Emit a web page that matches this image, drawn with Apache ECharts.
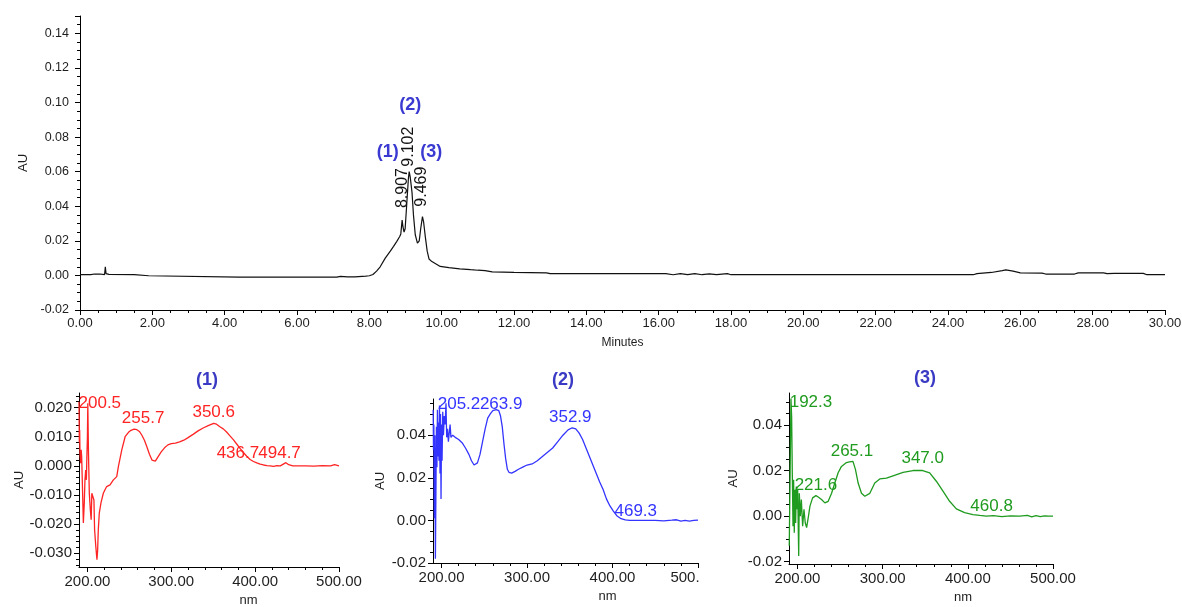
<!DOCTYPE html>
<html><head><meta charset="utf-8">
<script src="https://cdn.jsdelivr.net/npm/echarts@6/dist/echarts.min.js"></script>
<style>html,body{margin:0;padding:0;background:#fff}#c{width:1182px;height:607px}</style>
</head><body><div id="c"></div>
<script>
// ---------- chromatogram (top) ----------
const chromTime = [0.00,0.30,0.40,0.45,0.55,0.60,0.68,0.70,0.72,0.80,1.50,1.55,1.90,1.95,4.40,4.45,4.50,7.10,7.20,7.40,7.60,7.90,8.00,8.10,8.20,8.30,8.44,8.58,8.67,8.76,8.84,8.87,8.907,8.93,8.96,8.99,9.04,9.08,9.102,9.13,9.18,9.22,9.27,9.33,9.38,9.42,9.469,9.50,9.55,9.60,9.65,9.73,9.96,10.20,10.50,10.80,11.00,11.20,11.40,12.00,12.90,13.00,16.20,16.40,16.60,16.80,17.00,17.20,17.40,17.60,17.90,18.00,24.70,24.80,25.20,25.50,25.60,25.80,26.00,26.60,26.70,27.50,27.60,28.30,28.40,28.60,29.40,29.50,30.00];
const chromAU = [0.0004,0.0005,0.0008,0.0004,0.0008,0.0003,0.0005,0.0050,0.0010,0.0006,0.0004,0.0000,-0.0002,-0.0010,-0.0010,-0.0005,-0.0010,-0.0010,-0.0006,-0.0009,-0.0008,-0.0004,-0.0002,0.0005,0.0025,0.0050,0.0100,0.0140,0.0168,0.0197,0.0225,0.0240,0.0320,0.0280,0.0250,0.0270,0.0430,0.0560,0.0600,0.0570,0.0480,0.0350,0.0235,0.0187,0.0200,0.0270,0.0340,0.0310,0.0220,0.0140,0.0095,0.0080,0.0052,0.0045,0.0038,0.0033,0.0030,0.0028,0.0020,0.0017,0.0015,0.0010,0.0010,0.0004,0.0010,0.0005,0.0010,0.0004,0.0009,0.0005,0.0010,0.0004,0.0004,0.0010,0.0017,0.0028,0.0032,0.0025,0.0015,0.0013,0.0008,0.0008,0.0015,0.0015,0.0010,0.0012,0.0012,0.0004,0.0004];
const chromPeakTimes = [8.907, 9.102, 9.469];
const chromPeakNames = ['(1)', '(2)', '(3)'];

// ---------- UV spectra (bottom) ----------
const spec1NM = [190.0,190.4,190.8,191.2,192.0,192.6,193.2,194.0,195.2,196.3,197.1,198.0,198.8,199.4,200.0,200.5,201.3,202.3,203.5,204.5,205.3,206.5,207.8,208.6,210.0,211.4,212.2,213.0,214.2,216.2,219,221,223,227,231,235,237,241,245,249,252,255.7,259,262,265,268,271,274,277,279,281,284,288,292,296,300,305,310,315,320,326,332,338,344,350.6,354,358,362,366,370,374,378,382,386,390,394,398,402,406,410,414,418,422,426,430,436.7,440,445,450,460,470,480,490,494.7,500];
const spec1AU = [0.0220,0.0080,0.0123,0.0040,0.0009,0.0055,0.0030,-0.0060,-0.0196,-0.0127,-0.0048,-0.0014,-0.0048,0.0032,0.0095,0.0215,0.0044,-0.0094,-0.0150,-0.0185,-0.0094,-0.0105,-0.0117,-0.0219,-0.0276,-0.0322,-0.0290,-0.0220,-0.0162,-0.0127,-0.0094,-0.0082,-0.0071,-0.0065,-0.0048,-0.0037,-0.0002,0.0055,0.0100,0.0115,0.0122,0.0126,0.0124,0.0118,0.0105,0.0088,0.0065,0.0040,0.0020,0.0014,0.0016,0.0030,0.0048,0.0062,0.0072,0.0076,0.0078,0.0082,0.0088,0.0097,0.0108,0.0120,0.0130,0.0138,0.0146,0.0143,0.0134,0.0127,0.0116,0.0103,0.0090,0.0075,0.0060,0.0046,0.0033,0.0022,0.0015,0.0010,0.0006,0.0003,0.0001,0.0000,-0.0002,0.0001,0.0000,0.0011,0.0004,0.0000,0.0000,0.0000,-0.0001,0.0001,0.0000,0.0004,0.0000];
const spec1Peaks = [200.5, 255.7, 350.6, 436.7, 494.7];

const spec2NM = [190.2,190.6,191.0,191.6,192.2,192.8,193.4,194.0,194.6,195.2,195.8,196.4,197.0,197.6,198.2,198.8,199.4,200.0,200.6,201.4,202.2,203.2,204.2,205.2,206.0,207.0,208.0,209.0,210.0,211,213,216,220,224,228,232,235,238,240,242,245,248,251,254,257,260,263.9,267,269,271,273,275,277,279,282,286,290,295,300,306,312,318,324,330,336,342,348,352.9,357,361,365,369,373,377,381,385,389,393,397,401,405,410,415,420,430,440,450,460,469.3,475,480,485,490,495,500];
const spec2AU = [0.052,0.033,0.045,0.001,0.040,-0.018,0.012,0.044,0.025,0.052,0.030,0.046,0.028,0.054,0.022,0.050,0.010,0.045,0.028,0.051,0.040,0.049,0.045,0.055,0.039,0.043,0.037,0.041,0.045,0.039,0.040,0.039,0.038,0.0365,0.034,0.031,0.028,0.026,0.0255,0.027,0.031,0.037,0.043,0.048,0.050,0.0515,0.052,0.0515,0.049,0.044,0.036,0.029,0.024,0.0225,0.0222,0.023,0.024,0.025,0.026,0.0265,0.028,0.030,0.032,0.034,0.037,0.040,0.0425,0.0435,0.043,0.041,0.038,0.034,0.030,0.026,0.022,0.018,0.0145,0.010,0.0068,0.0044,0.0022,0.0008,0.0002,0.0,0.0,0.0,0.0,-0.0002,0.0001,0.0003,-0.0003,0.0,-0.0003,0.0,0.0001];
const spec2Peaks = [205.2, 263.9, 352.9, 469.3];

const spec3NM = [190.3,191.5,192.3,193.1,193.9,194.7,195.4,196.2,197.0,197.8,198.6,199.4,200.2,201.4,202.1,203.3,204.5,206.0,207.6,209.1,210.7,212.6,214.6,217.7,221.6,224.3,228.2,232.1,236.0,240,243.8,247.7,251.6,257.5,261,265.1,268,271.2,275.1,279.0,284.9,290.7,296.6,304.4,312.2,323.9,335.6,347.0,355.2,363,370.8,378.6,386.5,396.2,406,414,421.6,430,440,450,460.8,470,475,480,485,490,495,500];
const spec3AU = [-0.013,0.025,0.0516,0.0436,0.018,-0.0044,0.016,-0.0073,0.0116,-0.003,0.013,0.003,0.0116,-0.0175,0.010,0.0,0.0073,-0.0044,0.003,-0.003,-0.005,-0.0007,0.0044,0.008,0.009,0.0084,0.0073,0.0058,0.0065,0.010,0.0145,0.019,0.0218,0.0235,0.0238,0.024,0.0205,0.0145,0.010,0.0087,0.010,0.0145,0.0163,0.0167,0.0177,0.0192,0.020,0.020,0.019,0.0153,0.011,0.0065,0.0032,0.0015,0.0007,0.0003,0.0,0.0002,-0.0002,0.0001,0.0,0.0003,-0.0003,0.0002,-0.0002,0.0001,0.0,0.0];
const spec3Peaks = [192.3, 221.6, 265.1, 347.0, 460.8];

// tick values
const nmTicks = [200, 300, 400, 500];
const spec1YTicks = [-0.03,-0.02,-0.01,0.00,0.01,0.02];
const spec2YTicks = [-0.02,0.00,0.02,0.04];
const spec3YTicks = [-0.02,0.00,0.02,0.04];

// ---------- helpers & styling ----------
const FONT = "'Liberation Sans', Arial, sans-serif";
const INK = '#1e1e1e';
const zip = (a, b) => a.map((x, i) => [x, b[i]]);
const valAt = (xs, ys, x) => ys[xs.indexOf(x)];
const range = (a, b, s) => { const r = []; for (let v = a; v <= b + 1e-9; v += s) r.push(+v.toFixed(6)); return r; };

// screen offsets for peak labels [dx, dy]
const spec1Off = [[12,0],[9,-11],[0,-11],[-48,-9],[-55,-11]];
const spec2Off = [[13,1],[5,-5],[-2,-10],[-36,-9]];
const spec3Off = [[20,4],[0,-10],[-1,-10],[0,-12],[-28,-10]];
const chromNumOff = [[0,-32],[-1,-25],[-1,-30]];
const chromNameOff = [[-14.5,-68.5],[1,-66.5],[8.7,-65]];

const RED = '#ff2424', BLUE = '#3434ff', GREEN = '#1f9b1f', TITLE = '#3a3ac4';

function peakMarks(xs, ys, peaks, offs, color) {
  return {
    symbol: 'circle', symbolSize: 0, silent: true, animation: false,
    itemStyle: { color: 'transparent' },
    label: { show: true, position: 'inside', formatter: '{b}', color: color, fontSize: 17, fontFamily: FONT },
    data: peaks.map((p, i) => ({ name: p.toFixed(1), coord: [p, valAt(xs, ys, p)], label: { offset: offs[i] } }))
  };
}

function axisLineStyle() { return { show: true, onZero: false, lineStyle: { color: '#000', width: 1 } }; }
const hiddenLine = { show: false, onZero: false };

function specAxes(gi, ymin, ymax, yTicks, yMinorStep, yDigits, xFmt, nmShift, auGap) {
  const xMinor = range(200, 500, 20);
  const yMinor = range(Math.ceil(ymin / yMinorStep) * yMinorStep, ymax, yMinorStep);
  const xs = [
    { gridIndex: gi, type: 'value', min: 190, max: 500, position: 'bottom',
      axisLine: axisLineStyle(), splitLine: { show: false },
      axisTick: { show: true, customValues: nmTicks, length: 5, lineStyle: { color: '#000' } },
      axisLabel: { customValues: nmTicks, formatter: xFmt, color: INK, fontSize: 15, fontFamily: FONT, margin: 7, rich: { cut: { color: INK, fontSize: 15, fontFamily: FONT, padding: [0, 26, 0, 0] } } },
      name: 'nm', nameLocation: 'middle', nameGap: 27,
      nameTextStyle: { color: INK, fontSize: 13, fontFamily: FONT, padding: [0, 0, 0, nmShift * 2] } },
    { gridIndex: gi, type: 'value', min: 190, max: 500, position: 'bottom',
      axisLine: hiddenLine, splitLine: { show: false }, axisLabel: { show: false },
      axisTick: { show: true, customValues: xMinor, length: 3, lineStyle: { color: '#000' } } }
  ];
  const ys = [
    { gridIndex: gi, type: 'value', min: ymin, max: ymax, position: 'left',
      axisLine: axisLineStyle(), splitLine: { show: false },
      axisTick: { show: true, customValues: yTicks, length: 5, lineStyle: { color: '#000' } },
      axisLabel: { customValues: yTicks, formatter: v => v.toFixed(yDigits), color: INK, fontSize: 15, fontFamily: FONT, margin: 7 },
      name: 'AU', nameLocation: 'middle', nameGap: auGap,
      nameTextStyle: { color: INK, fontSize: 13, fontFamily: FONT } },
    { gridIndex: gi, type: 'value', min: ymin, max: ymax, position: 'left',
      axisLine: hiddenLine, splitLine: { show: false }, axisLabel: { show: false },
      axisTick: { show: true, customValues: yMinor, length: 3, lineStyle: { color: '#000' } } }
  ];
  return { xs, ys };
}

const a1 = specAxes(1, -0.0347, 0.025, spec1YTicks, 0.002, 3, v => v.toFixed(2), 39.5, 45);
const a2 = specAxes(2, -0.02, 0.057, spec2YTicks, 0.005, 2, v => (v === 500 ? '{cut|500.}' : v.toFixed(2)), 42, 46);
const a3 = specAxes(3, -0.021, 0.054, spec3YTicks, 0.005, 2, v => v.toFixed(2), 42, 49);

const chromMarks = {
  symbol: 'circle', symbolSize: 0, silent: true, animation: false,
  itemStyle: { color: 'transparent' },
  data: [].concat(
    chromPeakTimes.map((t, i) => ({
      name: t.toFixed(3), coord: [t, valAt(chromTime, chromAU, t)],
      // rotated 90deg: local offset = [-dy, dx]
      label: { show: true, position: 'inside', formatter: '{b}', rotate: 90, offset: [-chromNumOff[i][1], chromNumOff[i][0]], color: '#111', fontSize: 16, fontFamily: FONT }
    })),
    chromPeakTimes.map((t, i) => ({
      name: chromPeakNames[i], coord: [t, valAt(chromTime, chromAU, t)],
      label: { show: true, position: 'inside', formatter: '{b}', offset: chromNameOff[i], color: '#3a3ad2', fontSize: 18, fontWeight: 'bold', fontFamily: FONT }
    }))
  )
};

const option = {
  animation: false,
  backgroundColor: '#fff',
  textStyle: { fontFamily: FONT },
  grid: [
    { left: 80, top: 16, width: 1085, height: 294, outerBoundsMode: 'none', containLabel: false },
    { left: 79, top: 393, width: 260, height: 174, outerBoundsMode: 'none', containLabel: false },
    { left: 433, top: 399, width: 265, height: 164, outerBoundsMode: 'none', containLabel: false },
    { left: 789, top: 393, width: 264, height: 171, outerBoundsMode: 'none', containLabel: false }
  ],
  xAxis: [
    { gridIndex: 0, type: 'value', min: 0, max: 30, interval: 2, position: 'bottom',
      axisLine: axisLineStyle(), splitLine: { show: false },
      axisTick: { show: true, length: 5, lineStyle: { color: '#000' } },
      minorTick: { show: true, splitNumber: 4, length: 3, lineStyle: { color: '#000' } },
      axisLabel: { formatter: v => v.toFixed(2), color: INK, fontSize: 13, fontFamily: FONT, margin: 7 },
      name: 'Minutes', nameLocation: 'middle', nameGap: 27,
      nameTextStyle: { color: INK, fontSize: 12, fontFamily: FONT } }
  ].concat(a1.xs, a2.xs, a3.xs),
  yAxis: [
    { gridIndex: 0, type: 'value', min: -0.02, max: 0.15, interval: 0.02, position: 'left',
      axisLine: axisLineStyle(), splitLine: { show: false },
      axisTick: { show: true, length: 5, lineStyle: { color: '#000' } },
      minorTick: { show: true, splitNumber: 4, length: 3, lineStyle: { color: '#000' } },
      axisLabel: { formatter: v => v.toFixed(2), showMaxLabel: false, color: INK, fontSize: 12.5, fontFamily: FONT, margin: 11 },
      name: 'AU', nameLocation: 'middle', nameGap: 41,
      nameTextStyle: { color: INK, fontSize: 13, fontFamily: FONT } }
  ].concat(a1.ys, a2.ys, a3.ys),
  graphic: [
    { type: 'text', left: 196, top: 371, style: { text: chromPeakNames[0], fill: TITLE, font: "bold 18px 'Liberation Sans', Arial, sans-serif" } },
    { type: 'text', left: 552, top: 371, style: { text: chromPeakNames[1], fill: TITLE, font: "bold 18px 'Liberation Sans', Arial, sans-serif" } },
    { type: 'text', left: 914, top: 369, style: { text: chromPeakNames[2], fill: TITLE, font: "bold 18px 'Liberation Sans', Arial, sans-serif" } }
  ],
  series: [
    { type: 'line', xAxisIndex: 0, yAxisIndex: 0, data: zip(chromTime, chromAU), showSymbol: false, symbol: 'none',
      lineStyle: { color: '#111', width: 1.2 }, markPoint: chromMarks },
    { type: 'line', xAxisIndex: 1, yAxisIndex: 1, data: zip(spec1NM, spec1AU), showSymbol: false, symbol: 'none',
      lineStyle: { color: RED, width: 1.3 }, markPoint: peakMarks(spec1NM, spec1AU, spec1Peaks, spec1Off, RED) },
    { type: 'line', xAxisIndex: 3, yAxisIndex: 3, data: zip(spec2NM, spec2AU), showSymbol: false, symbol: 'none',
      lineStyle: { color: BLUE, width: 1.3 }, markPoint: peakMarks(spec2NM, spec2AU, spec2Peaks, spec2Off, BLUE) },
    { type: 'line', xAxisIndex: 5, yAxisIndex: 5, data: zip(spec3NM, spec3AU), showSymbol: false, symbol: 'none',
      lineStyle: { color: GREEN, width: 1.3 }, markPoint: peakMarks(spec3NM, spec3AU, spec3Peaks, spec3Off, GREEN) }
  ]
};

const chart = echarts.init(document.getElementById('c'), null, { renderer: 'canvas' });
chart.setOption(option);
</script>
</body></html>
